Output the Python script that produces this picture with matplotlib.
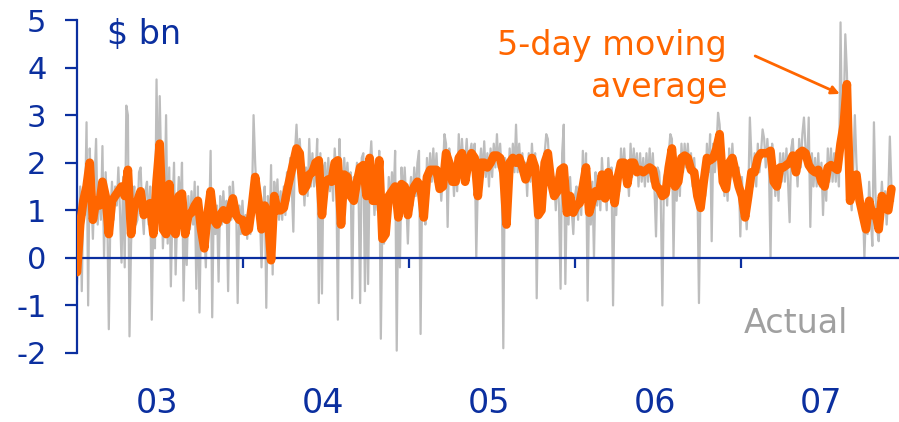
import matplotlib
matplotlib.use("Agg")
import matplotlib.pyplot as plt
import matplotlib.transforms as mtransforms
import pandas as pd

# ---------------- data ----------------
start_date = "2003-01-01"

# 5-day moving average, one value per week
ma_2003 = [-0.3, 0.7, 1.2, 1.5, 2.0, 0.8, 1.2, 1.1, 1.6, 1.3,
           0.5, 1.2, 1.3, 1.4, 1.5, 1.3, 1.85, 0.5, 1.1, 1.2,
           1.4, 0.9, 1.1, 1.15, 0.5, 1.6, 2.4, 0.6, 0.5, 1.55,
           0.6, 0.5, 1.3, 1.35, 0.5, 0.9, 0.95, 1.1, 1.2, 0.6,
           0.2, 0.9, 1.4, 0.8, 0.7, 0.9, 1.0, 0.8, 1.0, 1.25,
           0.9, 0.8]
ma_2004 = [0.8, 0.55, 0.6, 1.1, 1.7, 1.2, 0.6, 1.1, 0.9, -0.05,
           1.3, 1.0, 1.0, 1.05, 1.4, 1.7, 2.0, 2.3, 2.2, 1.4,
           1.5, 1.75, 1.8, 2.0, 2.05, 0.9, 1.6, 1.65, 1.6, 2.0,
           2.05, 0.7, 1.75, 1.7, 1.3, 1.2, 1.6, 1.9, 1.95, 1.3,
           2.1, 1.2, 1.2, 2.05, 0.4, 0.5, 1.3, 1.4, 1.5, 0.85,
           1.55, 1.5]
ma_2005 = [0.9, 1.35, 1.5, 1.6, 1.5, 0.85, 1.7, 1.85, 1.85, 1.85,
           1.45, 1.5, 2.2, 2.0, 1.6, 1.6, 2.1, 2.2, 1.6, 2.0,
           2.2, 2.1, 1.3, 2.0, 2.0, 1.9, 2.0, 2.15, 2.15, 2.1,
           1.8, 0.7, 2.0, 2.1, 2.0, 2.1, 1.9, 1.65, 1.85, 2.1,
           1.9, 0.9, 1.0, 2.0, 2.2, 1.6, 1.3, 1.4, 1.85, 1.9,
           0.95, 1.3]
ma_2006 = [0.95, 1.1, 1.15, 1.5, 1.9, 0.95, 1.2, 1.4, 1.3, 1.75,
           1.25, 1.8, 1.5, 1.15, 1.7, 2.0, 2.0, 1.55, 2.0, 2.0,
           1.8, 1.85, 1.8, 1.85, 1.9, 1.85, 1.5, 1.45, 1.3, 1.35,
           1.9, 2.3, 1.5, 1.6, 2.1, 2.15, 2.1, 1.85, 1.8, 1.3,
           1.05, 1.6, 2.1, 2.05, 2.1, 2.3, 2.6, 1.6, 1.45, 2.0,
           2.1, 1.8]
ma_2007 = [1.5, 1.3, 0.85, 1.3, 1.8, 1.8, 2.1, 2.2, 2.2, 2.2,
           2.25, 1.6, 1.5, 1.9, 1.9, 1.95, 2.0, 2.15, 1.8, 2.2,
           2.25, 2.2, 1.95, 1.85, 1.8, 1.85, 1.6, 1.5, 1.9, 1.95,
           1.9, 1.85, 2.4, 2.8, 3.65, 1.2, 1.6, 1.75, 1.2, 0.9,
           0.6, 1.2, 0.9, 0.95, 0.6, 1.3, 1.05, 1.0, 1.45]

# actual daily flows, two readings per week
actual_2003 = [-0.55, 0.4, 1.5, -0.7, 1.4, 0.9, 2.85, -1.0, 2.3, 1.3,
               0.4, 1.6, 2.5, 0.7, 1.5, 0.8, 2.35, 0.0, 1.8, 1.0,
               -1.5, 0.9, 1.6, 0.8, 1.5, 1.1, 1.9, 1.0, -0.1, 1.7,
               -0.2, 3.2, 3.0, -1.65, 0.3, 1.2, 1.5, 0.7, 0.8, 1.8,
               1.9, 1.0, 0.5, 1.4, 1.6, 0.7, 1.5, -1.3, 0.9, 0.2,
               3.75, 1.2, 3.4, 1.8, 0.2, 1.0, 3.0, 0.3, 1.9, -0.6,
               1.0, 2.0, -0.35, 0.9, 1.7, 1.0, 2.0, -0.9, 0.8, -0.15,
               1.3, 0.6, 1.4, 0.7, 1.6, -0.65, 1.5, -1.15, 0.9, 0.3,
               0.6, -0.2, 1.3, 0.6, 2.25, -1.25, 1.2, 0.5, 1.1, -0.5,
               1.3, 0.7, 1.4, 0.8, 1.2, -0.7, 1.5, 0.8, 1.6, 1.0,
               1.2, -0.95, 1.1, 0.5]
actual_2004 = [1.2, 0.6, 0.9, 0.4, 1.0, 0.5, 1.2, 3.0, 2.0, 1.3,
               1.6, 0.9, -0.2, 1.0, 1.5, -1.05, 1.3, 0.4, 1.95, -0.35,
               1.6, 1.0, 1.65, 0.8, 1.4, 0.8, 1.5, 0.9, 1.8, 1.2,
               2.1, 1.5, 0.55, 2.2, 2.8, 2.0, 2.5, 1.9, 1.8, 1.1,
               1.9, 1.3, 2.5, 1.5, 2.2, 1.5, 1.7, 2.5, -0.95, 2.2,
               -0.75, 1.9, 2.0, 1.3, 2.1, 1.4, 1.9, 1.2, 2.3, 1.7,
               -1.3, 2.5, 1.5, 1.2, 2.1, 1.5, 2.0, 1.4, 1.8, -0.85,
               1.7, 1.4, 2.0, 1.4, -0.95, 2.1, 2.2, -0.7, 1.8, -0.55,
               1.9, 2.45, 1.6, 0.9, 1.5, 1.0, 2.25, -1.7, 0.8, 0.3,
               1.0, 0.6, 1.7, 1.1, 1.8, 1.2, 2.25, -1.95, 1.4, -0.2,
               1.9, 1.3, 1.9, 1.2]
actual_2005 = [0.3, 1.3, 1.7, 1.1, 1.9, 1.3, 2.0, 2.25, -1.6, 1.6,
               1.2, 0.7, 2.1, 1.5, 2.2, 1.6, 2.3, 1.6, 2.2, 1.5,
               1.8, 1.2, 1.8, 2.6, 2.4, 0.65, 2.3, 1.7, 2.0, 1.3,
               2.0, 1.4, 2.6, 1.8, 2.5, 1.9, 2.0, 2.5, 1.8, 2.2,
               2.4, 1.9, 2.4, 0.0, 1.6, 1.9, 2.3, 1.7, 2.45, 1.7,
               2.2, 1.5, 2.3, 1.7, 2.4, 1.9, 2.6, 1.9, 2.4, 1.8,
               -1.9, 2.1, 2.0, 1.5, 2.3, 1.7, 2.4, 1.8, 2.8, 1.8,
               2.4, 1.8, 2.2, 1.6, 2.0, 1.3, 2.2, 1.6, 2.4, 1.8,
               2.2, -0.85, 1.4, 0.9, 1.5, 1.2, 2.2, 2.6, 2.5, 1.9,
               2.0, 1.3, 1.7, 1.0, 1.8, 1.1, -0.65, 2.2, 2.8, -0.55,
               1.4, 0.7, 1.7, 1.0]
actual_2006 = [0.5, 1.3, 1.5, 0.8, 1.5, 0.9, 2.25, 1.3, 2.2, -0.9,
               1.4, 0.7, 1.6, 0.0, 1.8, 1.1, 1.7, 1.0, 2.1, 1.5,
               1.6, 1.0, 2.1, 1.5, 1.9, -1.0, 1.5, 0.9, 2.0, 1.4,
               2.3, 1.7, 2.3, 1.7, 1.9, 1.3, 2.4, 1.7, 2.3, 1.8,
               2.2, 1.5, 2.2, 1.6, 2.1, 1.5, 2.2, 1.6, 2.3, 1.6,
               2.2, 1.5, 0.45, 1.9, 1.8, 1.2, -1.0, 1.7, 1.8, 1.1,
               2.2, 2.6, 2.5, 0.0, 1.9, 1.2, 2.0, 1.3, 2.4, 1.8,
               2.4, 1.9, 2.4, 1.8, 2.2, 1.5, 2.1, 1.5, 1.6, -0.95,
               1.5, 1.2, 2.0, 1.3, 2.4, 1.8, 2.6, 0.35, 2.4, 1.8,
               2.3, 3.05, 2.8, 2.2, 1.9, 1.3, 1.8, 1.2, 2.3, 1.7,
               2.4, 1.8, 2.1, 1.5]
actual_2007 = [1.9, 0.45, 1.7, 1.0, 1.2, 0.6, 1.3, 2.95, 2.1, 1.5,
               2.2, 1.5, 2.4, 1.8, 2.2, 2.7, 2.5, 1.9, 2.5, 1.9,
               0.0, 2.4, 2.0, 1.3, 1.9, 1.2, 2.2, 1.6, 2.2, 1.6,
               2.3, 1.6, 0.75, 2.3, 2.5, 1.8, 2.1, 1.5, 2.5, 1.9,
               2.6, 2.95, 2.3, 1.9, 2.95, 0.65, 2.2, 1.5, 2.1, 1.5,
               2.2, 1.5, 2.0, 0.9, 1.9, 1.2, 2.3, 1.6, 2.3, 1.6,
               2.2, 1.6, 2.3, 1.5, 4.95, 2.4, 3.0, 4.7, 3.9, 2.5,
               1.5, 1.0, 1.9, 3.0, 2.0, 1.4, 1.5, 0.8, 1.2, 0.0,
               1.0, 0.5, 1.6, 0.9, 0.25, 2.85, 1.3, 0.6, 0.35, 1.0,
               1.6, 1.0, 1.4, 0.7, 1.3, 2.55, 1.5, 1.2]

year_labels = ["03", "04", "05", "06", "07"]
years = [2003, 2004, 2005, 2006, 2007]
y_ticks = [-2, -1, 0, 1, 2, 3, 4, 5]

ma_values = ma_2003 + ma_2004 + ma_2005 + ma_2006 + ma_2007
actual_values = actual_2003 + actual_2004 + actual_2005 + actual_2006 + actual_2007
ma_dates = pd.date_range(start_date, periods=len(ma_values), freq="7D")
actual_dates = pd.date_range(start_date, periods=len(actual_values), freq="84h")

# ---------------- style ----------------
BLUE = "#0b2f9f"
ORANGE = "#ff6600"
GREY = "#bdbdbd"
plt.rcParams["font.family"] = ["DejaVu Sans"]

fig = plt.figure(figsize=(8.99, 4.22), dpi=100)
ax = fig.add_axes([77 / 899, 69 / 422, 822 / 899, 333 / 422])

ax.plot(actual_dates, actual_values, color=GREY, lw=1.6, zorder=2)
ax.plot(ma_dates, ma_values, color=ORANGE, lw=6.2, zorder=3,
        solid_joinstyle="round", solid_capstyle="round")

t0 = pd.Timestamp(start_date)
ax.set_xlim(t0, t0 + pd.Timedelta(days=365.25 * 822 / 166))
ax.set_ylim(-2, 5)

for s in ("top", "right"):
    ax.spines[s].set_visible(False)
ax.spines["left"].set_color(BLUE)
ax.spines["left"].set_linewidth(1.6)
ax.spines["bottom"].set_position(("data", 0))
ax.spines["bottom"].set_color(BLUE)
ax.spines["bottom"].set_linewidth(1.6)

ax.set_yticks(y_ticks)
ax.set_yticklabels([str(v) for v in y_ticks])
ax.tick_params(axis="y", direction="out", length=9, width=1.6, colors=BLUE,
               labelsize=22, pad=13)
ax.set_xticks([pd.Timestamp(f"{y}-01-01") for y in years[1:]])
ax.set_xticklabels([])
ax.tick_params(axis="x", direction="out", length=7, width=1.6, colors=BLUE)

trans = mtransforms.blended_transform_factory(ax.transData, ax.transAxes)
for y, lab in zip(years, year_labels):
    ax.text(pd.Timestamp(f"{y}-06-25"), -0.153, lab, transform=trans,
            ha="center", va="center", fontsize=24, color=BLUE, clip_on=False)

ax.text(0.036, 0.955, r"\$ bn", transform=ax.transAxes, ha="left", va="center",
        fontsize=24, color=BLUE)

ax.text(0.791, 0.895, "5-day moving", transform=ax.transAxes, ha="right",
        va="baseline", fontsize=24, color=ORANGE)
ax.text(0.791, 0.769, "average", transform=ax.transAxes, ha="right",
        va="baseline", fontsize=24, color=ORANGE)
ax.annotate("", xy=(0.928, 0.778), xycoords="axes fraction",
            xytext=(0.825, 0.892), textcoords="axes fraction",
            arrowprops=dict(arrowstyle="-|>", color=ORANGE, lw=2,
                            mutation_scale=12, shrinkA=0, shrinkB=0))

ax.text(0.938, 0.06, "Actual", transform=ax.transAxes, ha="right",
        va="baseline", fontsize=24, color="#a0a0a0")

fig.savefig("out.png", dpi=100)
